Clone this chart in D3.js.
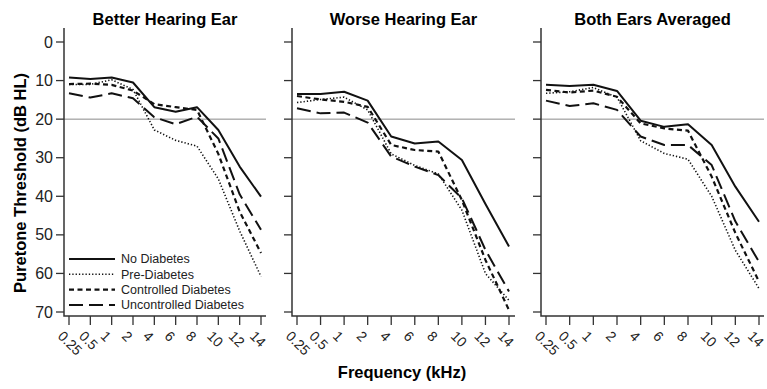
<!DOCTYPE html>
<html lang="en">
<head>
<meta charset="utf-8">
<style>
  body { margin: 0; background: #fff; }
  svg { font-family: "Liberation Sans", Arial, sans-serif; }
  .title { font-weight: bold; font-size: 16.5px; }
  .axis-label { font-weight: bold; font-size: 16.5px; }
  .tick-y { font-size: 16px; fill: #222; }
  .tick-x { font-size: 14px; fill: #222; }
  .legend text { font-size: 12.5px; fill: #222; }
</style>
</head>
<body>
<svg width="767" height="389"></svg>
<script src="https://cdn.jsdelivr.net/npm/d3@7"></script>
<script>
// frequencies (categorical x axis)
var freqs = ["0.25", "0.5", "1", "2", "4", "6", "8", "10", "12", "14"];
var groups = ["No Diabetes", "Pre-Diabetes", "Controlled Diabetes", "Uncontrolled Diabetes"];
var yTicks = [0, 10, 20, 30, 40, 50, 60, 70];
var panelTitles = ["Better Hearing Ear", "Worse Hearing Ear", "Both Ears Averaged"];

// thresholds in dB HL, one row per group
var betterEar = [
    [9.2, 9.6, 9.2, 10.5, 16.9, 18.1, 16.9, 22.8, 32.3, 40.1],
    [11, 11, 9.8, 12.3, 22.8, 25.5, 27, 35.5, 49, 60.8],
    [10.9, 10.8, 11.1, 12.6, 16.1, 16.9, 17.6, 29, 44, 54.7],
    [13.3, 14.4, 13.3, 14.6, 19.5, 21.3, 19.4, 25, 39.5, 48.7]
];
var worseEar = [
    [13.5, 13.5, 12.9, 15.2, 24.5, 26.3, 25.8, 30.6, 42, 53],
    [15.7, 14.9, 14.3, 17.6, 29, 32, 34.2, 43.6, 60, 67],
    [14, 14.9, 15.5, 16.8, 26.7, 28, 28.4, 41, 56.5, 69.5],
    [17.2, 18.5, 18.3, 20.9, 29.7, 32.3, 34.5, 40.5, 53.9, 64.7]
];
var bothEars = [
    [11.1, 11.4, 11.1, 12.7, 20.4, 22, 21.3, 26.7, 37.5, 46.6],
    [13.3, 12.9, 11.8, 14.3, 25.6, 28.9, 30.4, 40, 54, 63.9],
    [12.4, 13.1, 12.6, 14.2, 21.1, 22.4, 23, 34.9, 49.5, 62.1],
    [15.2, 16.6, 15.9, 17.6, 24.5, 26.7, 26.7, 31.9, 46.5, 57]
];
var refLine = 20;

var panelData = [betterEar, worseEar, bothEars];

// layout of the three panels (axis x, first/last tick x, axis end)
var panels = [
    {x0: 64, first: 69, last: 261, x1: 266},
    {x0: 292, first: 297, last: 509, x1: 515},
    {x0: 541, first: 546, last: 759, x1: 764}
];
var yTop = 28, yBottom = 316;

var styles = [
    {dash: null, width: 2},
    {dash: "1.3,2", width: 1.6},
    {dash: "5,3.5", width: 2.2},
    {dash: "14,6", width: 2}
];

var svg = d3.select("svg");
var y = d3.scaleLinear().domain([0, 70]).range([42, 312]);
var axisColor = "#333";

panels.forEach(function (p, pi) {
    var x = d3.scalePoint().domain(freqs).range([p.first, p.last]);
    var g = svg.append("g");

    g.append("text")
        .attr("class", "title")
        .attr("x", (p.x0 + p.x1) / 2)
        .attr("y", 25)
        .attr("text-anchor", "middle")
        .text(panelTitles[pi]);

    // reference line at 20 dB
    g.append("line")
        .attr("x1", p.x0).attr("x2", p.x1)
        .attr("y1", y(refLine)).attr("y2", y(refLine))
        .attr("stroke", "#8a8a8a").attr("stroke-width", 1);

    // L-shaped axes
    g.append("path")
        .attr("d", "M" + p.x0 + "," + yTop + "V" + yBottom + "H" + p.x1)
        .attr("fill", "none").attr("stroke", axisColor).attr("stroke-width", 1.5);

    yTicks.forEach(function (t) {
        g.append("line")
            .attr("x1", p.x0 - 8).attr("x2", p.x0)
            .attr("y1", y(t)).attr("y2", y(t))
            .attr("stroke", axisColor).attr("stroke-width", 1.3);
        if (pi === 0) {
            g.append("text")
                .attr("class", "tick-y")
                .attr("x", p.x0 - 11)
                .attr("y", y(t))
                .attr("dy", "0.35em")
                .attr("text-anchor", "end")
                .text(t);
        }
    });

    freqs.forEach(function (f) {
        g.append("line")
            .attr("x1", x(f)).attr("x2", x(f))
            .attr("y1", yBottom).attr("y2", yBottom + 9)
            .attr("stroke", axisColor).attr("stroke-width", 1.3);
        g.append("text")
            .attr("class", "tick-x")
            .attr("transform", "translate(" + (x(f) - 12) + "," + (yBottom + 21) + ") rotate(45)")
            .text(f);
    });

    var line = d3.line()
        .x(function (d, i) { return x(freqs[i]); })
        .y(function (d) { return y(d); });

    // draw back to front so the solid line stays on top
    panelData[pi].slice().reverse().forEach(function (vals, k) {
        var s = styles[groups.length - 1 - k];
        g.append("path")
            .datum(vals)
            .attr("d", line)
            .attr("fill", "none")
            .attr("stroke", "#111")
            .attr("stroke-width", s.width)
            .attr("stroke-dasharray", s.dash)
            .attr("stroke-linejoin", "round");
    });
});

// legend in the first panel
var legend = svg.append("g").attr("class", "legend");
groups.forEach(function (name, i) {
    var ly = 259 + i * 15.3;
    legend.append("line")
        .attr("x1", 69).attr("x2", 115)
        .attr("y1", ly).attr("y2", ly)
        .attr("stroke", "#111")
        .attr("stroke-width", styles[i].width)
        .attr("stroke-dasharray", styles[i].dash);
    legend.append("text")
        .attr("x", 121).attr("y", ly)
        .attr("dy", "0.35em")
        .text(name);
});

svg.append("text")
    .attr("class", "axis-label")
    .attr("transform", "translate(26,183) rotate(-90)")
    .attr("text-anchor", "middle")
    .text("Puretone Threshold (dB HL)");

svg.append("text")
    .attr("class", "axis-label")
    .attr("x", 402).attr("y", 378)
    .attr("text-anchor", "middle")
    .text("Frequency (kHz)");
</script>
</body>
</html>
